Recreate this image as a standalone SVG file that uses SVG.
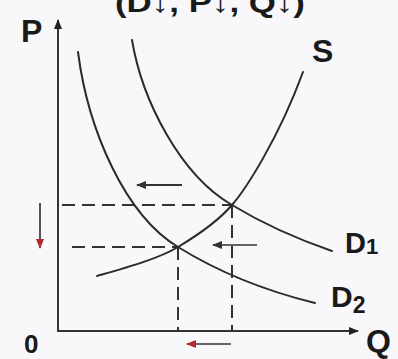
<svg xmlns="http://www.w3.org/2000/svg" width="398" height="359" viewBox="0 0 398 359">
<defs>
<style>
.lbl{font-family:"Liberation Sans",Arial,sans-serif;font-weight:bold;fill:#1a1a1a}
.curve{fill:none;stroke:#2b2b2b;stroke-width:2;stroke-linecap:round}
.axis{fill:none;stroke:#333;stroke-width:2}
.dash{fill:none;stroke:#333;stroke-width:2;stroke-dasharray:13 7}
.move{fill:none;stroke-width:2}
</style>
<marker id="axHead" viewBox="0 0 10 8" refX="9" refY="4" markerWidth="10" markerHeight="8" markerUnits="userSpaceOnUse" orient="auto">
<path d="M0,0 L10,4 L0,8 Z" fill="#222"/>
</marker>
<marker id="blkHead" viewBox="0 0 10 8" refX="9" refY="4" markerWidth="10" markerHeight="8" markerUnits="userSpaceOnUse" orient="auto">
<path d="M0,0 L10,4 L0,8 Z" fill="#333"/>
</marker>
<marker id="redHead" viewBox="0 0 10 8" refX="9" refY="4" markerWidth="10" markerHeight="8" markerUnits="userSpaceOnUse" orient="auto">
<path d="M0,0 L10,4 L0,8 Z" fill="#b02a30"/>
</marker>
</defs>
<rect width="398" height="359" fill="#f8f8fa"/>

<text class="lbl" x="115" y="12" font-size="28" textLength="190" lengthAdjust="spacingAndGlyphs">(D↓, P↓, Q↓)</text>

<g id="connectors">
<path id="axis-p" class="axis" d="M58,331 L58,20" marker-end="url(#axHead)"/>
<path id="axis-q" class="axis" d="M57,331 L358,331" marker-end="url(#axHead)"/>
<path class="dash" d="M62,205 L232,205"/>
<path class="dash" d="M232,205 L232,331"/>
<path class="dash" d="M72,247 L178,247"/>
<path class="dash" d="M178,247 L178,331"/>
<path class="move" stroke="#333" d="M182,185 L137,185" marker-end="url(#blkHead)"/>
<path class="move" stroke="#5d665d" d="M257,245 L213,245" marker-end="url(#blkHead)"/>
<path class="move" stroke="#555" d="M40,203 L40,248" marker-end="url(#redHead)"/>
<path class="move" stroke="#666" d="M231,344 L187,344" marker-end="url(#redHead)"/>
</g>

<g id="S">
<path class="curve" d="M97,276 C125,268 158,259 178,247 C198,235 220,219 232,205 C245,190 278,140 303,72"/>
<text class="lbl" x="312" y="62" font-size="32">S</text>
</g>
<g id="D1">
<path class="curve" d="M132,40 C142,100 180,175 232,205 C265,225 300,240 332,251"/>
<text class="lbl" x="345" y="253" font-size="29">D<tspan font-size="22" dy="1">1</tspan></text>
</g>
<g id="D2">
<path class="curve" d="M78,52 C88,130 125,215 178,247 C220,273 270,292 315,303"/>
<text class="lbl" x="331" y="307" font-size="30">D<tspan font-size="23" dy="6">2</tspan></text>
</g>
<g id="labels">
<text class="lbl" x="21" y="42" font-size="32">P</text>
<text class="lbl" x="366" y="352" font-size="32">Q</text>
<text class="lbl" x="24" y="353" font-size="26">0</text>
</g>
</svg>
